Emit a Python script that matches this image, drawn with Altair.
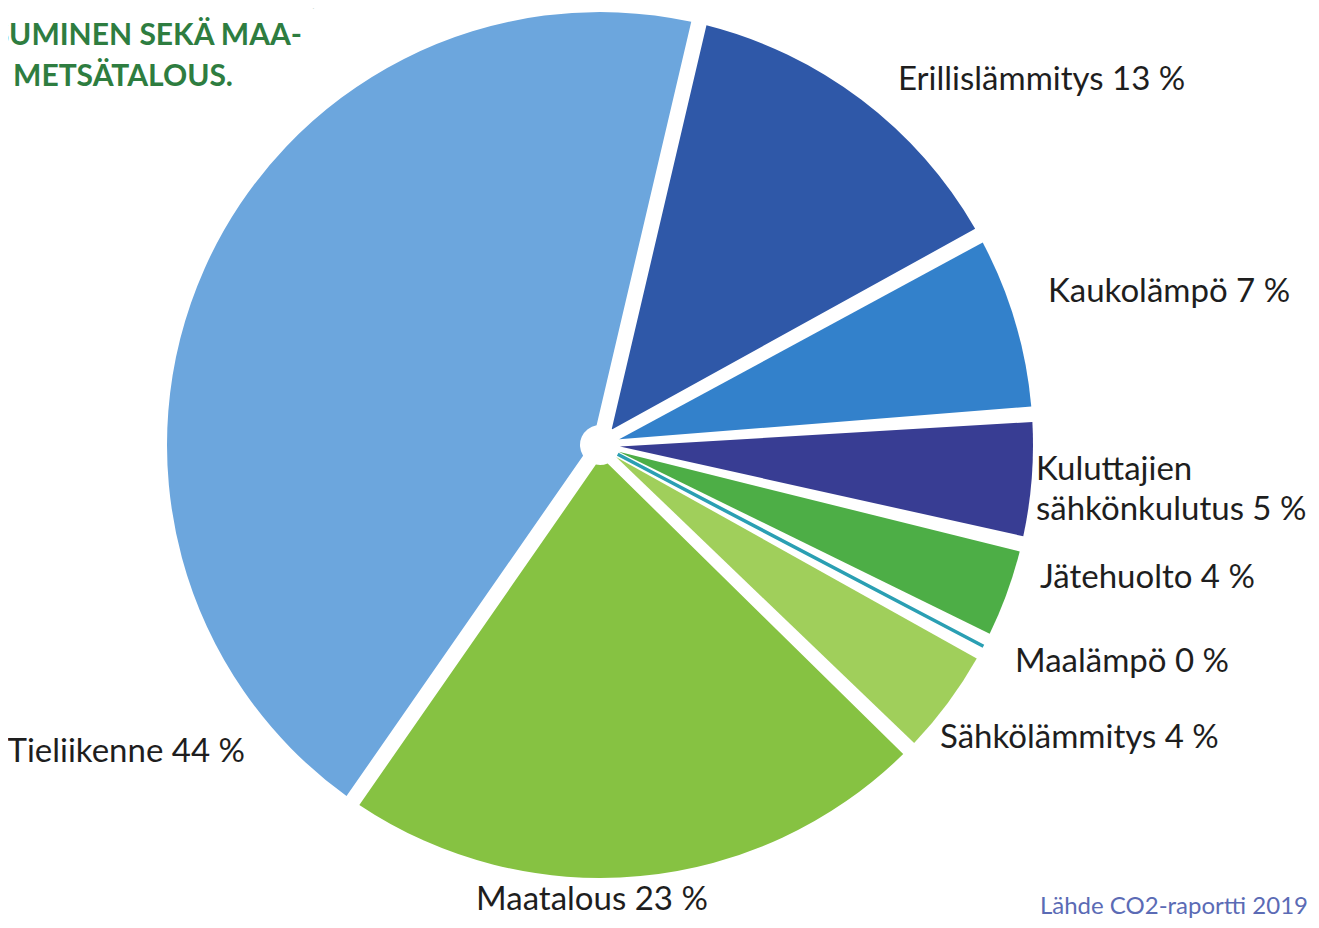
import math
import altair as alt
import pandas as pd

# ---- data ----
sectors = ["Erillislämmitys", "Kaukolämpö", "Kuluttajien sähkönkulutus", "Jätehuolto",
           "Maalämpö", "Sähkölämmitys", "Maatalous", "Tieliikenne"]
shares = [13.3, 6.9, 4.8, 3.8, 0.45, 4.45, 22.3, 44.0]
labels = ["Erillislämmitys 13 %", "Kaukolämpö 7 %", "Kuluttajien\nsähkönkulutus 5 %",
          "Jätehuolto 4 %", "Maalämpö 0 %", "Sähkölämmitys 4 %", "Maatalous 23 %",
          "Tieliikenne 44 %"]
colors = ["#2F58A8", "#3381CB", "#383D93", "#4DAE46", "#2A9FB3", "#A0CF5B", "#86C242", "#6CA6DD"]

title_lines = ["SUURIMMAT PÄÄSTÖLÄHTEET OVAT LIIKENNE,", "ASUMINEN SEKÄ MAA-", "JA METSÄTALOUS."]
source_text = "Lähde CO2-raportti 2019"

# ---- layout (not data) ----
W, H = 1184, 874           # plot area; pie centred in it
PAD = {"left": 0, "top": 0, "right": 1303 - 1184, "bottom": 912 - 874}
START = math.radians(13.2)  # first slice starts just right of north
R_OUT = 433
# label anchors in page pixels, converted to polar offsets from the pie centre
CX, CY = 8 + W / 2, 8 + H / 2
label_xy = [(898, 80), (1048, 292), (1036, 470), (1040, 578), (1015, 662),
            (940, 738), (592, 900), (245, 752)]
label_align = ["left", "left", "left", "left", "left", "left", "center", "right"]
FONT = "Lato"

pie_df = pd.DataFrame({"sector": sectors, "share": shares, "idx": list(range(len(sectors)))})
lab_df = pd.DataFrame({
    "label": labels,
    "ang": [math.atan2(x - CX, CY - y) % (2 * math.pi) for x, y in label_xy],
    "dist": [math.hypot(x - CX, y - CY) for x, y in label_xy],
    "align": label_align,
})

color_scale = alt.Scale(domain=sectors, range=colors)

pie = alt.Chart(pie_df).mark_arc(
    outerRadius=R_OUT, innerRadius=20, padAngle=0.036, stroke="#2A9FB3"
).encode(
    theta=alt.Theta("share:Q", stack=True, scale=alt.Scale(range=[START, START + 2 * math.pi])),
    color=alt.Color("sector:N", scale=color_scale, legend=None),
    order=alt.Order("idx:Q"),
    strokeWidth=alt.condition(alt.datum.sector == "Maalämpö", alt.value(3.5), alt.value(0)),
    tooltip=["sector:N", "share:Q"],
)

text_layers = []
for al in ["left", "right", "center"]:
    text_layers.append(
        alt.Chart(lab_df).transform_filter(alt.datum.align == al).mark_text(
            align=al, baseline="middle", font=FONT, fontSize=33, color="#1e1e1e",
            lineBreak="\n", lineHeight=40,
        ).encode(
            theta=alt.Theta("ang:Q", scale=None, stack=None),
            radius=alt.Radius("dist:Q", scale=None),
            text="label:N",
        )
    )

title_x = [310, 294, 225]
title_y = [-4, 37, 78]
title_layers = []
for t, x, y in zip(title_lines, title_x, title_y):
    title_layers.append(
        alt.Chart(pd.DataFrame({"t": [t]})).mark_text(
            align="right", baseline="alphabetic", font=FONT, fontSize=30, fontWeight="bold",
            color="#2E7D40",
        ).encode(x=alt.value(x), y=alt.value(y), text="t:N")
    )

source = alt.Chart(pd.DataFrame({"t": [source_text]})).mark_text(
    align="right", baseline="alphabetic", font=FONT, fontSize=24, color="#5B6BB5",
).encode(x=alt.value(1300), y=alt.value(906), text="t:N")

chart = alt.layer(pie, *text_layers, *title_layers, source).properties(
    width=W, height=H, padding=PAD, autosize=alt.AutoSizeParams(type="none"),
).configure_view(stroke=None)

chart.save("out.html", embed_options={"renderer": "svg", "actions": False})
